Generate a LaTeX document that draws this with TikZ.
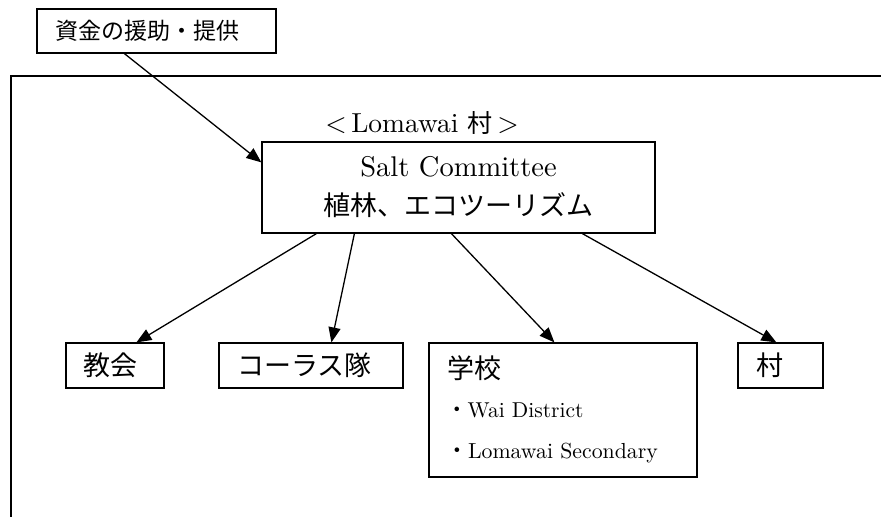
\documentclass[tikz,border=0pt]{standalone}
\usepackage{fontspec}
\setmainfont{lmroman10-regular.otf}
\newfontfamily\cjk{Noto Sans CJK JP}
\usetikzlibrary{arrows.meta,calc}
\tikzset{
  box/.style={draw, line width=1.2pt, inner ysep=0pt, align=left},
  link/.style={line width=1.3pt, -{Triangle[length=15pt,width=12pt]}},
  frame/.style={line width=1.8pt},
}
\begin{document}
\begin{tikzpicture}[x=1pt,y=-1pt]
\useasboundingbox (0,0) rectangle (881,517);
% outer frame
\draw[frame] (881,76) -- (11,76) -- (11,517);
% funding box
\node[box, inner xsep=18pt, text width=203pt, minimum height=44pt,
      font=\cjk\fontsize{23}{23}\selectfont] (fund) at (156.5,31) {資金の援助・提供};
% village label
\node[anchor=base, inner sep=0pt, font=\fontsize{27.5}{27.5}\selectfont] (label) at (422,132)
  {<\,Lomawai {\cjk\fontsize{25}{25}\selectfont 村}\,>};
% salt committee
\node[box, align=center, inner sep=0pt, minimum width=393pt, minimum height=91pt,
      font=\fontsize{28.5}{39}\selectfont] (salt) at (458.5,187.5)
  {Salt Committee\\{\cjk\fontsize{27}{39}\selectfont 植林、エコツーリズム}};
% bottom boxes
\node[box, inner xsep=17pt, text width=64pt, minimum height=45pt,
      font=\cjk\fontsize{27}{27}\selectfont] (church) at (115,365.5) {教会};
\node[box, inner xsep=18pt, text width=148pt, minimum height=45pt,
      font=\cjk\fontsize{27}{27}\selectfont] (choir) at (311,365.5) {コーラス隊};
\node[box, inner xsep=18pt, text width=49pt, minimum height=45pt,
      font=\cjk\fontsize{27}{27}\selectfont] (village) at (780.5,365.5) {村};
\node[box, inner sep=0pt, minimum width=268pt, minimum height=134pt] (school) at (563,410) {};
\node[anchor=base west, inner sep=0pt, font=\cjk\fontsize{27}{27}\selectfont] (schooltitle) at (447,378) {学校};
\node[anchor=base west, inner sep=0pt, font=\fontsize{21.5}{21.5}\selectfont] (wai) at (446,417)
  {{\cjk ・}Wai District};
\node[anchor=base west, inner sep=0pt, font=\fontsize{21.8}{21.8}\selectfont] (secondary) at (446,458)
  {{\cjk ・}Lomawai Secondary};
% connectors
\draw[link] ($(fund.south west)+(88,0)$) -- ($(salt.north west)+(0,21)$);
\draw[link] ($(salt.south west)+(55,0)$) -- ($(church.north west)+(71,0)$);
\draw[link] ($(salt.south west)+(93,0)$) -- ($(choir.north west)+(113,0)$);
\draw[link] ($(salt.south west)+(190,0)$) -- ($(school.north west)+(126,0)$);
\draw[link] ($(salt.south west)+(321,0)$) -- ($(village.north west)+(39,0)$);
\end{tikzpicture}
\end{document}
